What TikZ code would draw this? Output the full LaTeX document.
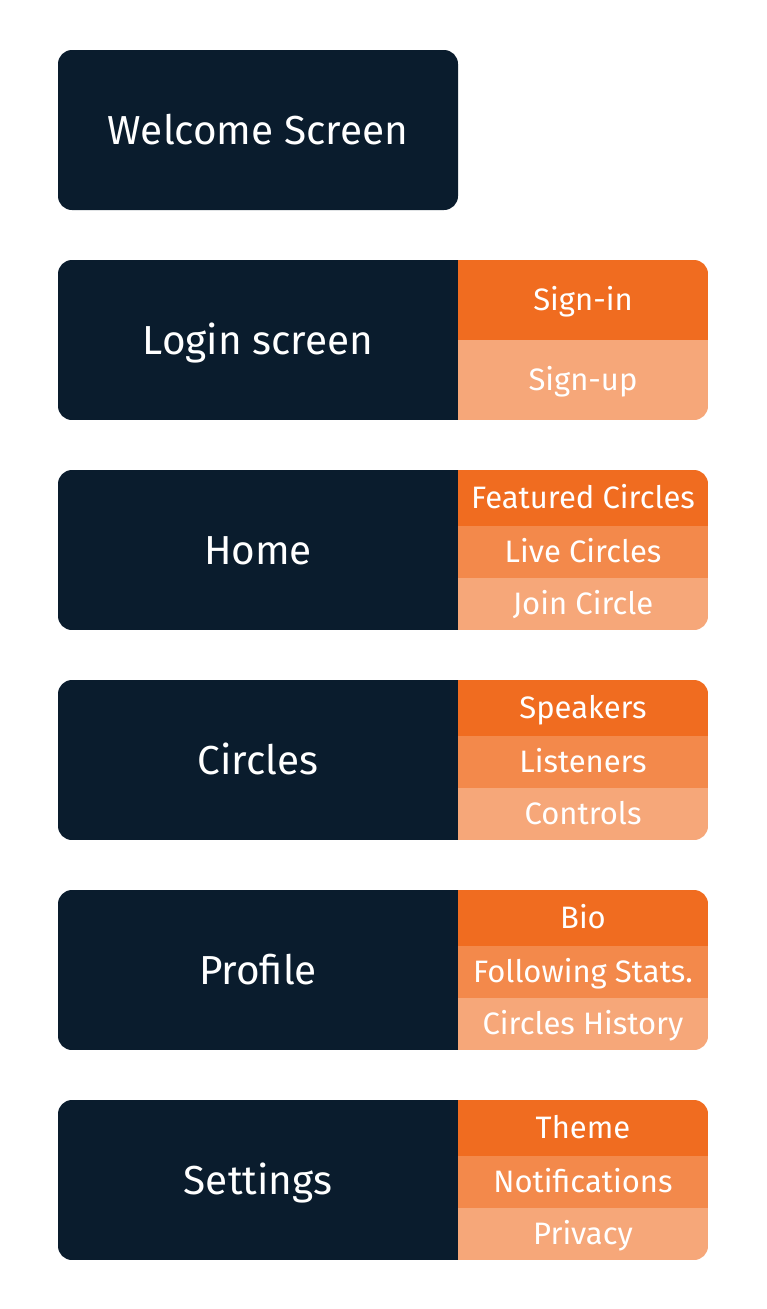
\documentclass[tikz,border=0pt]{standalone}
\usepackage{fontspec}
\setmainfont{Fira Sans}
\usepackage{tikz}
\usetikzlibrary{positioning}
\definecolor{navy}{HTML}{0A1C2D}
\definecolor{orangeA}{HTML}{F06C20}
\definecolor{orangeB}{HTML}{F3894B}
\definecolor{orangeC}{HTML}{F6A779}

\begin{document}
\begin{tikzpicture}[x=1pt,y=-1pt,
  screen/.style={fill=navy,text=white,minimum width=400pt,minimum height=160pt,inner sep=0pt,outer sep=0pt,
    text height=28pt,text depth=0pt,font=\fontsize{40.5}{46}\selectfont},
  part/.style={text=white,minimum width=250pt,inner sep=0pt,outer sep=0pt,
    text height=21.4pt,text depth=0pt,font=\fontsize{31}{36}\selectfont},
  partA/.style={part,fill=orangeA},
  partB/.style={part,fill=orangeB},
  partC/.style={part,fill=orangeC}]
  \useasboundingbox (0,0) rectangle (766,1309);
  \node[screen,rounded corners=14pt] (welcome) at (258,130) {Welcome Screen};
  \begin{scope}
    \clip[rounded corners=14pt] (58,260) rectangle (708,420);
    \node[screen] (login) at (258,340) {Login screen};
    \node[partA,minimum height=80pt,below right=0pt and 0pt of login.north east] (signin) {Sign-in};
    \node[partC,minimum height=80pt,below=0pt of signin] (signup) {Sign-up};
  \end{scope}
  \begin{scope}
    \clip[rounded corners=14pt] (58,470) rectangle (708,630);
    \node[screen] (home) at (258,550) {Home};
    \node[partA,minimum height=56pt,below right=0pt and 0pt of home.north east] (featured) {Featured Circles};
    \node[partB,minimum height=52pt,below=0pt of featured] (live) {Live Circles};
    \node[partC,minimum height=52pt,below=0pt of live] (join) {Join Circle};
  \end{scope}
  \begin{scope}
    \clip[rounded corners=14pt] (58,680) rectangle (708,840);
    \node[screen] (circles) at (258,760) {Circles};
    \node[partA,minimum height=56pt,below right=0pt and 0pt of circles.north east] (speakers) {Speakers};
    \node[partB,minimum height=52pt,below=0pt of speakers] (listeners) {Listeners};
    \node[partC,minimum height=52pt,below=0pt of listeners] (controls) {Controls};
  \end{scope}
  \begin{scope}
    \clip[rounded corners=14pt] (58,890) rectangle (708,1050);
    \node[screen] (profile) at (258,970) {Profile};
    \node[partA,minimum height=56pt,below right=0pt and 0pt of profile.north east] (bio) {Bio};
    \node[partB,minimum height=52pt,below=0pt of bio] (stats) {Following Stats.};
    \node[partC,minimum height=52pt,below=0pt of stats] (history) {Circles History};
  \end{scope}
  \begin{scope}
    \clip[rounded corners=14pt] (58,1100) rectangle (708,1260);
    \node[screen] (settings) at (258,1180) {Settings};
    \node[partA,minimum height=56pt,below right=0pt and 0pt of settings.north east] (theme) {Theme};
    \node[partB,minimum height=52pt,below=0pt of theme] (notify) {Notifications};
    \node[partC,minimum height=52pt,below=0pt of notify] (privacy) {Privacy};
  \end{scope}
\end{tikzpicture}
\end{document}
